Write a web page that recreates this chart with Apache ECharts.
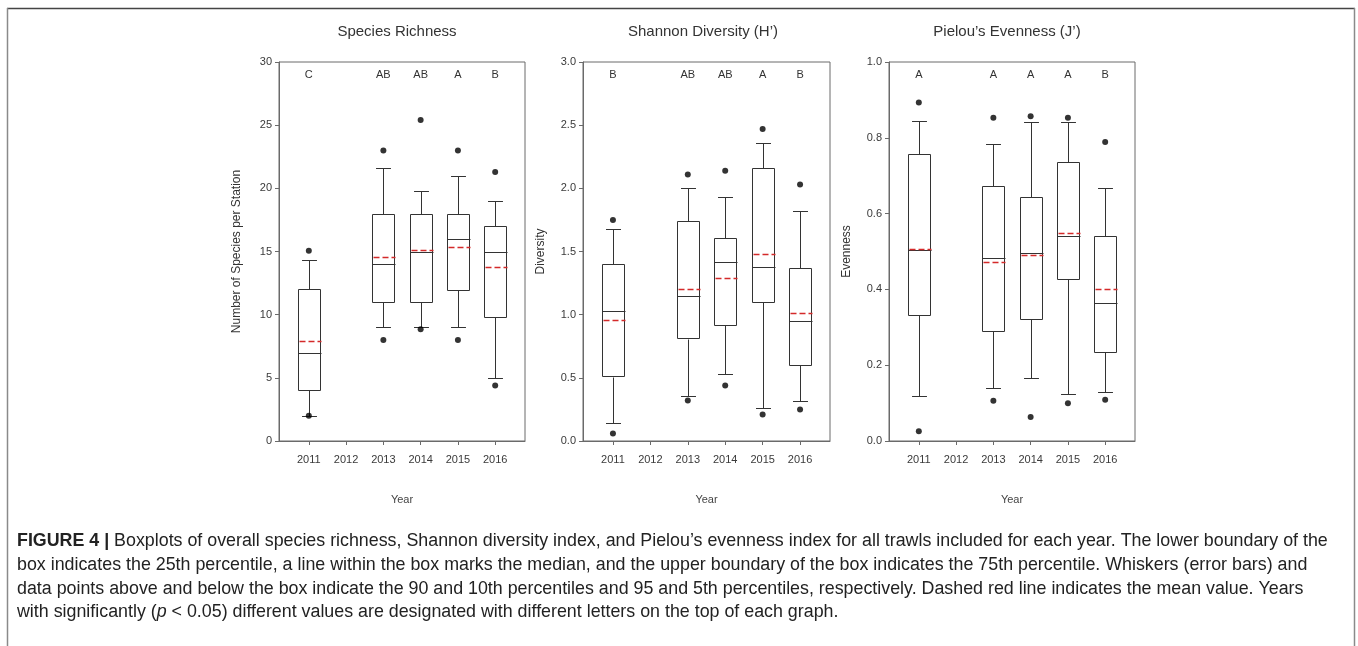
<!DOCTYPE html>
<html><head><meta charset="utf-8">
<script src="https://cdn.jsdelivr.net/npm/echarts@6/dist/echarts.min.js"></script>
<style>html,body{margin:0;padding:0;background:#fff}#c{width:1358px;height:646px}</style>
</head><body><div id="c"></div>
<script>
// ---------- DATA ----------
const years = [2011, 2012, 2013, 2014, 2015, 2016];
const boxYears = [2011, 2013, 2014, 2015, 2016];

// Species richness
const richLowWhisker  = [2, 9, 9, 9, 5];
const richQ1          = [4, 11, 11, 12, 9.8];
const richMedian      = [7, 14, 15, 16, 15];
const richQ3          = [12, 18, 18, 18, 17];
const richHighWhisker = [14.3, 21.6, 19.8, 21, 19];
const richMean        = [7.95, 14.6, 15.1, 15.35, 13.75];
const richLowOut      = [2, 8, 8.85, 8, 4.4];
const richHighOut     = [15.05, 23, 25.4, 23, 21.3];
const richLetters     = ['C', 'AB', 'AB', 'A', 'B'];

// Shannon diversity
const shanLowWhisker  = [0.14, 0.36, 0.53, 0.26, 0.32];
const shanQ1          = [0.51, 0.81, 0.92, 1.10, 0.60];
const shanMedian      = [1.03, 1.15, 1.42, 1.38, 0.95];
const shanQ3          = [1.40, 1.74, 1.61, 2.16, 1.37];
const shanHighWhisker = [1.68, 2.00, 1.93, 2.36, 1.82];
const shanMean        = [0.96, 1.20, 1.29, 1.48, 1.01];
const shanLowOut      = [0.06, 0.32, 0.44, 0.21, 0.25];
const shanHighOut     = [1.75, 2.11, 2.14, 2.47, 2.03];
const shanLetters     = ['B', 'AB', 'AB', 'A', 'B'];

// Pielou's evenness
const evenLowWhisker  = [0.12, 0.14, 0.165, 0.125, 0.13];
const evenQ1          = [0.332, 0.291, 0.321, 0.427, 0.234];
const evenMedian      = [0.505, 0.482, 0.495, 0.541, 0.364];
const evenQ3          = [0.756, 0.673, 0.644, 0.736, 0.54];
const evenHighWhisker = [0.844, 0.783, 0.841, 0.841, 0.668];
const evenMean        = [0.507, 0.472, 0.492, 0.549, 0.401];
const evenLowOut      = [0.026, 0.106, 0.063, 0.0995, 0.109];
const evenHighOut     = [0.893, 0.853, 0.857, 0.853, 0.789];
const evenLetters     = ['A', 'A', 'A', 'A', 'B'];

const panelTitles = ['Species Richness', 'Shannon Diversity (H\u2019)', 'Pielou\u2019s Evenness (J\u2019)'];
const yNames = ['Number of Species per Station', 'Diversity', 'Evenness'];
const yMax = [30, 3, 1];
const yInterval = [5, 0.5, 0.2];
const yDecimals = [0, 1, 1];
const xName = 'Year';

const captionLines = [
  '{b|FIGURE 4 |} Boxplots of overall species richness, Shannon diversity index, and Pielou\u2019s evenness index for all trawls included for each year. The lower boundary of the',
  'box indicates the 25th percentile, a line within the box marks the median, and the upper boundary of the box indicates the 75th percentile. Whiskers (error bars) and',
  'data points above and below the box indicate the 90 and 10th percentiles and 95 and 5th percentiles, respectively. Dashed red line indicates the mean value. Years',
  'with significantly ({i|p} < 0.05) different values are designated with different letters on the top of each graph.'
];

// ---------- BUILD ----------
const panels = [
  {lw: richLowWhisker, q1: richQ1, md: richMedian, q3: richQ3, hw: richHighWhisker, mn: richMean, lo: richLowOut, hi: richHighOut, let: richLetters},
  {lw: shanLowWhisker, q1: shanQ1, md: shanMedian, q3: shanQ3, hw: shanHighWhisker, mn: shanMean, lo: shanLowOut, hi: shanHighOut, let: shanLetters},
  {lw: evenLowWhisker, q1: evenQ1, md: evenMedian, q3: evenQ3, hw: evenHighWhisker, mn: evenMean, lo: evenLowOut, hi: evenHighOut, let: evenLetters}
];

const gridLefts = [279, 583, 889];
const gridWidths = [246, 247, 246];
const axisColor = '#6a6a6a';
const labelColor = '#3a3a3a';
const baseFont = 'Arial, "Liberation Sans", Helvetica, sans-serif';

function boxRender(params, api) {
  const x = api.value(0);
  const c = v => api.coord([x, v]);
  const pLw = c(api.value(1)), pQ1 = c(api.value(2)), pMd = c(api.value(3));
  const pQ3 = c(api.value(4)), pHw = c(api.value(5)), pMn = c(api.value(6));
  const half = api.size([0.3, 0])[0];
  const cap = api.size([0.2, 0])[0];
  const cx = Math.round(pQ1[0]) + 0.5;
  const r = v => Math.round(v) + 0.5;
  const st = {stroke: '#333', lineWidth: 1, fill: null};
  return {type: 'group', children: [
    {type: 'line', shape: {x1: cx, y1: r(pHw[1]), x2: cx, y2: r(pQ3[1])}, style: st},
    {type: 'line', shape: {x1: cx - cap, y1: r(pHw[1]), x2: cx + cap, y2: r(pHw[1])}, style: st},
    {type: 'line', shape: {x1: cx, y1: r(pQ1[1]), x2: cx, y2: r(pLw[1])}, style: st},
    {type: 'line', shape: {x1: cx - cap, y1: r(pLw[1]), x2: cx + cap, y2: r(pLw[1])}, style: st},
    {type: 'rect', shape: {x: r(cx - half), y: r(pQ3[1]), width: Math.round(2 * half), height: Math.round(pQ1[1] - pQ3[1])},
      style: {fill: '#fff', stroke: '#333', lineWidth: 1}},
    {type: 'line', shape: {x1: r(cx - half), y1: r(pMd[1]), x2: r(cx + half), y2: r(pMd[1])}, style: st},
    {type: 'line', shape: {x1: r(cx - half) + 1, y1: r(pMn[1]), x2: r(cx + half), y2: r(pMn[1])},
      style: {stroke: '#d42a2a', lineWidth: 1.3, lineDash: [6, 3], fill: null}}
  ]};
}

function letterRender(params, api) {
  const p = api.coord([api.value(0), api.value(1)]);
  return {type: 'text', x: p[0], y: p[1], style: {text: panels[params.seriesIndex / 3 | 0].let[params.dataIndex],
    align: 'center', verticalAlign: 'middle', fill: '#333', font: '11px ' + baseFont}};
}

const grids = [], xAxes = [], yAxes = [], series = [];
panels.forEach((p, i) => {
  grids.push({left: gridLefts[i], top: 62, width: gridWidths[i], height: 379, show: true,
    borderColor: axisColor, borderWidth: 1, backgroundColor: 'transparent'});
  xAxes.push({type: 'value', gridIndex: i, min: 2010.2, max: 2016.8, interval: 1,
    name: xName, nameLocation: 'middle', nameGap: 53,
    nameTextStyle: {color: '#444', fontSize: 11, fontFamily: baseFont},
    splitLine: {show: false},
    axisLine: {show: true, lineStyle: {color: axisColor}},
    axisTick: {show: true, length: 4, lineStyle: {color: axisColor}, customValues: years},
    axisLabel: {color: labelColor, fontSize: 11, fontFamily: baseFont, margin: 13, customValues: years,
      formatter: v => String(Math.round(v))}});
  yAxes.push({type: 'value', gridIndex: i, min: 0, max: yMax[i], interval: yInterval[i],
    name: yNames[i], nameLocation: 'middle', nameGap: 36, nameRotate: 90,
    nameTextStyle: {color: '#333', fontSize: 12, fontFamily: baseFont},
    splitLine: {show: false},
    axisLine: {show: true, lineStyle: {color: axisColor}},
    axisTick: {show: true, length: 4, lineStyle: {color: axisColor}},
    axisLabel: {color: labelColor, fontSize: 11, fontFamily: baseFont, margin: 7,
      formatter: v => v.toFixed(yDecimals[i])}});
  const boxData = boxYears.map((y, k) => [y, p.lw[k], p.q1[k], p.md[k], p.q3[k], p.hw[k], p.mn[k]]);
  series.push({type: 'custom', xAxisIndex: i, yAxisIndex: i, renderItem: boxRender, data: boxData,
    encode: {x: 0, y: [1, 2, 3, 4, 5, 6]}, silent: true, z: 2});
  const outData = [];
  boxYears.forEach((y, k) => { outData.push([y, p.lo[k]]); outData.push([y, p.hi[k]]); });
  series.push({type: 'scatter', xAxisIndex: i, yAxisIndex: i, data: outData, symbol: 'circle', symbolSize: 6,
    itemStyle: {color: '#000'}, silent: true, z: 3});
  series.push({type: 'custom', xAxisIndex: i, yAxisIndex: i, renderItem: letterRender,
    data: boxYears.map(y => [y, yMax[i] * 0.966]), silent: true, z: 4});
});

// caption font sizing: fit first line to the frame width
const capFamily = '"Liberation Sans Narrow", "Arial Narrow", "Liberation Sans", Arial, sans-serif';
const cv = document.createElement('canvas').getContext('2d');
cv.font = '15px ' + capFamily;
const plain = captionLines[0].replace(/\{b\|([^}]*)\}/, '$1');
const w15 = cv.measureText(plain).width + 6;
const capSize = Math.min(19, 15 * 1318 / w15);

const graphics = [
  {type: 'line', shape: {x1: 7, y1: 8.5, x2: 1355, y2: 8.5}, style: {stroke: '#444', lineWidth: 1.5}, silent: true},
  {type: 'line', shape: {x1: 7.5, y1: 8, x2: 7.5, y2: 646}, style: {stroke: '#8a8a8a', lineWidth: 1.5}, silent: true},
  {type: 'line', shape: {x1: 1354.5, y1: 8, x2: 1354.5, y2: 646}, style: {stroke: '#8a8a8a', lineWidth: 1.5}, silent: true}
];
const titleCenters = [397, 703, 1007];
panelTitles.forEach((t, i) => graphics.push({type: 'text', x: titleCenters[i], y: 32, silent: true,
  style: {text: t, align: 'center', verticalAlign: 'middle', fill: '#333', font: '15px ' + baseFont}}));
const capY = [541, 565, 589, 612];
captionLines.forEach((line, i) => graphics.push({type: 'text', x: 17, y: capY[i], silent: true,
  style: {text: line, verticalAlign: 'middle', align: 'left', fill: '#222',
    fontSize: capSize, fontFamily: capFamily,
    rich: {b: {fontWeight: 'bold', fontSize: capSize, fontFamily: capFamily, fill: '#222'},
           i: {fontStyle: 'italic', fontSize: capSize, fontFamily: capFamily, fill: '#222'}}}}));

const chart = echarts.init(document.getElementById('c'), null, {renderer: 'canvas'});
chart.setOption({
  animation: false,
  backgroundColor: '#fff',
  grid: grids, xAxis: xAxes, yAxis: yAxes, series: series, graphic: graphics
});
</script></body></html>
